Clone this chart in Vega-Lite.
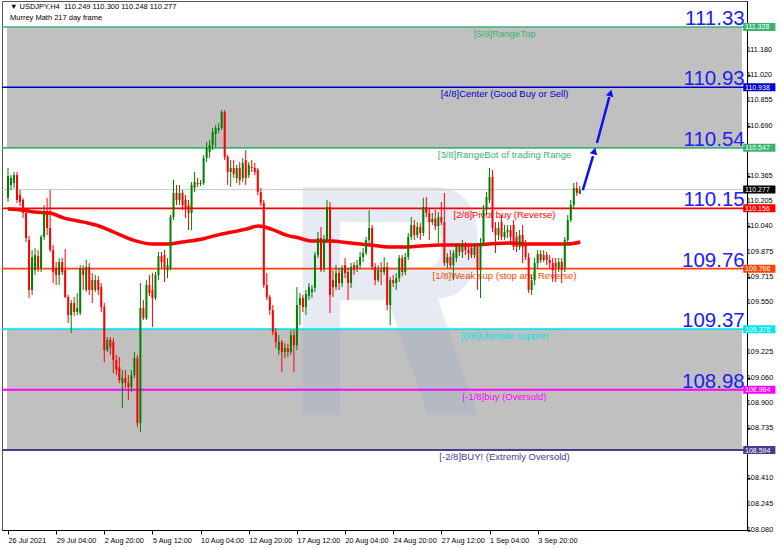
{
"$schema": "https://vega.github.io/schema/vega-lite/v6.json",
"width": 745, "height": 529,
"autosize": {"type": "none"},
"padding": {"left": 2, "top": 1, "right": 35, "bottom": 19},
"background": "white",
"config": {
  "view": {"stroke": "#555", "strokeWidth": 1},
  "axis": {"labelFont": "Liberation Sans", "labelFontSize": 7.3, "labelColor": "#000", "domainColor": "#000", "tickColor": "#000", "grid": false, "labelOverlap": false},
  "text": {"font": "Liberation Sans"}
},
"datasets": {
  "bands": [{"top": 111.328, "bot": 110.547}, {"top": 109.375, "bot": 108.594}],
  "levels": [
    {"k": "5/8", "v": 111.328, "name": "[5/8]RangeTop", "big": "111.33"},
    {"k": "4/8", "v": 110.938, "name": "[4/8]Center (Good Buy or Sell)", "big": "110.93"},
    {"k": "3/8", "v": 110.547, "name": "[3/8]RangeBot of trading Range", "big": "110.54"},
    {"k": "2/8", "v": 110.156, "name": "[2/8]Pivot buy (Reverse)", "big": "110.15"},
    {"k": "1/8", "v": 109.766, "name": "[1/8]Weak sup (stop and Reverse)", "big": "109.76"},
    {"k": "0/8", "v": 109.375, "name": "[0/8]Ultimate support", "big": "109.37"},
    {"k": "-1/8", "v": 108.984, "name": "[-1/8]buy (Oversold)", "big": "108.98"},
    {"k": "-2/8", "v": 108.594, "name": "[-2/8]BUY! (Extremly Oversold)", "big": ""}
  ],
  "tags": [
    {"k": "5/8", "v": 111.328}, {"k": "4/8", "v": 110.938}, {"k": "3/8", "v": 110.547},
    {"k": "cur", "v": 110.277}, {"k": "2/8", "v": 110.156}, {"k": "1/8", "v": 109.766},
    {"k": "0/8", "v": 109.375}, {"k": "-1/8", "v": 108.984}, {"k": "-2/8", "v": 108.594}
  ],
  "cur": [{"v": 110.277}],
  "logo": [{"i": 127.05, "p": 109.557}],
  "yticks": [{"v":108.08},{"v":108.245},{"v":108.41},{"v":108.735},{"v":108.9},{"v":109.06},{"v":109.225},{"v":109.55},{"v":109.715},{"v":109.875},{"v":110.04},{"v":110.205},{"v":110.365},{"v":110.69},{"v":110.855},{"v":111.02},{"v":111.18}],
  "ma": [
    {"i":0,"p":110.152},{"i":4.6,"p":110.145},{"i":8.9,"p":110.132},{"i":13.8,"p":110.126},{"i":18.7,"p":110.093},{"i":25.2,"p":110.067},{"i":30.2,"p":110.042},{"i":35.1,"p":110.003},{"i":41.6,"p":109.951},{"i":48.2,"p":109.925},{"i":53.1,"p":109.925},{"i":58,"p":109.938},{"i":64.6,"p":109.958},{"i":69.5,"p":109.983},{"i":74.4,"p":110.003},{"i":79.3,"p":110.022},{"i":83.3,"p":110.042},{"i":87.5,"p":110.022},{"i":92.5,"p":109.983},{"i":96.7,"p":109.964},{"i":100.7,"p":109.945},{"i":107.2,"p":109.945},{"i":113.8,"p":109.932},{"i":120.3,"p":109.919},{"i":126.9,"p":109.906},{"i":131.8,"p":109.906},{"i":136.7,"p":109.912},{"i":143.3,"p":109.919},{"i":153.1,"p":109.919},{"i":159.7,"p":109.925},{"i":166.2,"p":109.932},{"i":172.8,"p":109.925},{"i":179.3,"p":109.925},{"i":185.9,"p":109.925},{"i":190.2,"p":109.938}
  ],
  "arrow": [
    {"seg":1,"i":191.0,"p":110.274},{"seg":1,"i":194.4,"p":110.494},
    {"seg":2,"i":195.7,"p":110.578},{"seg":2,"i":199.8,"p":110.875}
  ],
  "heads": [{"seg":1,"i":194.85,"p":110.526},{"seg":2,"i":200.2,"p":110.901}],
  "candles": [
    {"i":0,"o":110.223,"h":110.417,"l":110.197,"c":110.365},
    {"i":1,"o":110.307,"h":110.371,"l":110.274,"c":110.352},
    {"i":2,"o":110.320,"h":110.391,"l":110.287,"c":110.371},
    {"i":3,"o":110.371,"h":110.391,"l":110.190,"c":110.210},
    {"i":4,"o":110.242,"h":110.274,"l":110.171,"c":110.197},
    {"i":5,"o":110.210,"h":110.223,"l":110.093,"c":110.126},
    {"i":6,"o":110.126,"h":110.158,"l":109.938,"c":109.964},
    {"i":7,"o":109.951,"h":109.977,"l":109.576,"c":109.628},
    {"i":8,"o":109.628,"h":109.886,"l":109.596,"c":109.841},
    {"i":9,"o":109.757,"h":109.899,"l":109.725,"c":109.854},
    {"i":10,"o":109.848,"h":109.886,"l":109.744,"c":109.770},
    {"i":11,"o":109.770,"h":109.983,"l":109.744,"c":109.971},
    {"i":12,"o":109.971,"h":110.177,"l":109.951,"c":110.126},
    {"i":13,"o":110.126,"h":110.223,"l":109.983,"c":110.029},
    {"i":14,"o":110.029,"h":110.274,"l":109.874,"c":109.886},
    {"i":15,"o":109.886,"h":109.919,"l":109.673,"c":109.744},
    {"i":16,"o":109.770,"h":109.809,"l":109.660,"c":109.725},
    {"i":17,"o":109.725,"h":109.835,"l":109.660,"c":109.809},
    {"i":18,"o":109.809,"h":109.835,"l":109.725,"c":109.744},
    {"i":19,"o":109.757,"h":109.893,"l":109.576,"c":109.583},
    {"i":20,"o":109.583,"h":109.596,"l":109.415,"c":109.466},
    {"i":21,"o":109.466,"h":109.563,"l":109.350,"c":109.544},
    {"i":22,"o":109.544,"h":109.583,"l":109.460,"c":109.486},
    {"i":23,"o":109.486,"h":109.608,"l":109.466,"c":109.512},
    {"i":24,"o":109.479,"h":109.789,"l":109.466,"c":109.770},
    {"i":25,"o":109.770,"h":109.789,"l":109.628,"c":109.725},
    {"i":26,"o":109.628,"h":109.822,"l":109.615,"c":109.777},
    {"i":27,"o":109.777,"h":109.802,"l":109.596,"c":109.628},
    {"i":28,"o":109.692,"h":109.738,"l":109.544,"c":109.628},
    {"i":29,"o":109.628,"h":109.725,"l":109.615,"c":109.692},
    {"i":30,"o":109.692,"h":109.718,"l":109.596,"c":109.628},
    {"i":31,"o":109.647,"h":109.673,"l":109.486,"c":109.518},
    {"i":32,"o":109.518,"h":109.544,"l":109.162,"c":109.240},
    {"i":33,"o":109.240,"h":109.324,"l":109.227,"c":109.305},
    {"i":34,"o":109.305,"h":109.324,"l":109.208,"c":109.259},
    {"i":35,"o":109.292,"h":109.318,"l":109.091,"c":109.175},
    {"i":36,"o":109.175,"h":109.208,"l":109.078,"c":109.111},
    {"i":37,"o":109.130,"h":109.195,"l":109.027,"c":109.046},
    {"i":38,"o":109.027,"h":109.111,"l":108.865,"c":109.059},
    {"i":39,"o":109.059,"h":109.111,"l":108.994,"c":109.027},
    {"i":40,"o":109.027,"h":109.078,"l":108.917,"c":109.001},
    {"i":41,"o":109.001,"h":109.111,"l":108.969,"c":109.078},
    {"i":42,"o":109.078,"h":109.227,"l":109.059,"c":109.188},
    {"i":43,"o":109.188,"h":109.208,"l":108.742,"c":108.768},
    {"i":44,"o":108.768,"h":109.673,"l":108.710,"c":109.512},
    {"i":45,"o":109.512,"h":109.563,"l":109.434,"c":109.447},
    {"i":46,"o":109.447,"h":109.692,"l":109.434,"c":109.660},
    {"i":47,"o":109.660,"h":109.725,"l":109.589,"c":109.608},
    {"i":48,"o":109.628,"h":109.738,"l":109.389,"c":109.576},
    {"i":49,"o":109.576,"h":109.744,"l":109.563,"c":109.725},
    {"i":50,"o":109.725,"h":109.874,"l":109.692,"c":109.848},
    {"i":51,"o":109.848,"h":109.874,"l":109.770,"c":109.809},
    {"i":52,"o":109.854,"h":109.886,"l":109.680,"c":109.770},
    {"i":53,"o":109.757,"h":109.835,"l":109.705,"c":109.789},
    {"i":54,"o":109.770,"h":110.113,"l":109.757,"c":110.100},
    {"i":55,"o":110.100,"h":110.339,"l":110.080,"c":110.255},
    {"i":56,"o":110.255,"h":110.307,"l":110.177,"c":110.210},
    {"i":57,"o":110.210,"h":110.307,"l":110.177,"c":110.255},
    {"i":58,"o":110.255,"h":110.274,"l":110.145,"c":110.177},
    {"i":59,"o":110.210,"h":110.242,"l":110.093,"c":110.158},
    {"i":60,"o":110.177,"h":110.210,"l":110.016,"c":110.126},
    {"i":61,"o":110.126,"h":110.326,"l":110.016,"c":110.307},
    {"i":62,"o":110.287,"h":110.391,"l":110.261,"c":110.326},
    {"i":63,"o":110.320,"h":110.352,"l":110.294,"c":110.313},
    {"i":64,"o":110.313,"h":110.339,"l":110.300,"c":110.320},
    {"i":65,"o":110.320,"h":110.501,"l":110.307,"c":110.481},
    {"i":66,"o":110.481,"h":110.585,"l":110.455,"c":110.546},
    {"i":67,"o":110.520,"h":110.598,"l":110.481,"c":110.565},
    {"i":68,"o":110.565,"h":110.675,"l":110.533,"c":110.649},
    {"i":69,"o":110.636,"h":110.694,"l":110.552,"c":110.675},
    {"i":70,"o":110.662,"h":110.707,"l":110.643,"c":110.675},
    {"i":71,"o":110.675,"h":110.791,"l":110.662,"c":110.779},
    {"i":72,"o":110.779,"h":110.791,"l":110.468,"c":110.488},
    {"i":73,"o":110.488,"h":110.501,"l":110.307,"c":110.391},
    {"i":74,"o":110.391,"h":110.468,"l":110.294,"c":110.417},
    {"i":75,"o":110.417,"h":110.468,"l":110.352,"c":110.378},
    {"i":76,"o":110.352,"h":110.436,"l":110.320,"c":110.417},
    {"i":77,"o":110.417,"h":110.455,"l":110.307,"c":110.339},
    {"i":78,"o":110.352,"h":110.481,"l":110.326,"c":110.449},
    {"i":79,"o":110.468,"h":110.533,"l":110.307,"c":110.352},
    {"i":80,"o":110.371,"h":110.455,"l":110.352,"c":110.436},
    {"i":81,"o":110.423,"h":110.468,"l":110.391,"c":110.417},
    {"i":82,"o":110.417,"h":110.449,"l":110.371,"c":110.391},
    {"i":83,"o":110.404,"h":110.417,"l":110.242,"c":110.261},
    {"i":84,"o":110.261,"h":110.287,"l":110.171,"c":110.190},
    {"i":85,"o":110.190,"h":110.210,"l":109.641,"c":109.660},
    {"i":86,"o":109.660,"h":109.738,"l":109.563,"c":109.583},
    {"i":87,"o":109.583,"h":109.596,"l":109.466,"c":109.499},
    {"i":88,"o":109.499,"h":109.531,"l":109.337,"c":109.356},
    {"i":89,"o":109.356,"h":109.382,"l":109.253,"c":109.292},
    {"i":90,"o":109.240,"h":109.337,"l":109.208,"c":109.292},
    {"i":91,"o":109.292,"h":109.305,"l":109.098,"c":109.227},
    {"i":92,"o":109.227,"h":109.285,"l":109.188,"c":109.253},
    {"i":93,"o":109.253,"h":109.279,"l":109.195,"c":109.227},
    {"i":94,"o":109.227,"h":109.369,"l":109.208,"c":109.337},
    {"i":95,"o":109.337,"h":109.369,"l":109.098,"c":109.272},
    {"i":96,"o":109.272,"h":109.647,"l":109.240,"c":109.531},
    {"i":97,"o":109.531,"h":109.608,"l":109.402,"c":109.576},
    {"i":98,"o":109.576,"h":109.596,"l":109.486,"c":109.518},
    {"i":99,"o":109.518,"h":109.628,"l":109.466,"c":109.602},
    {"i":100,"o":109.589,"h":109.673,"l":109.563,"c":109.647},
    {"i":101,"o":109.615,"h":109.660,"l":109.576,"c":109.634},
    {"i":102,"o":109.641,"h":109.874,"l":109.615,"c":109.854},
    {"i":103,"o":109.854,"h":110.003,"l":109.835,"c":109.964},
    {"i":104,"o":109.964,"h":110.035,"l":109.744,"c":109.757},
    {"i":105,"o":109.770,"h":109.983,"l":109.744,"c":109.951},
    {"i":106,"o":109.951,"h":110.210,"l":109.932,"c":110.164},
    {"i":107,"o":110.164,"h":110.197,"l":109.479,"c":109.596},
    {"i":108,"o":109.692,"h":109.757,"l":109.583,"c":109.647},
    {"i":109,"o":109.647,"h":109.789,"l":109.628,"c":109.738},
    {"i":110,"o":109.738,"h":109.770,"l":109.628,"c":109.673},
    {"i":111,"o":109.673,"h":109.789,"l":109.647,"c":109.770},
    {"i":112,"o":109.789,"h":109.835,"l":109.705,"c":109.738},
    {"i":113,"o":109.744,"h":109.770,"l":109.563,"c":109.673},
    {"i":114,"o":109.673,"h":109.802,"l":109.641,"c":109.777},
    {"i":115,"o":109.789,"h":109.809,"l":109.725,"c":109.757},
    {"i":116,"o":109.770,"h":109.822,"l":109.744,"c":109.789},
    {"i":117,"o":109.789,"h":109.874,"l":109.770,"c":109.841},
    {"i":118,"o":109.841,"h":109.899,"l":109.809,"c":109.867},
    {"i":119,"o":109.867,"h":109.971,"l":109.854,"c":109.951},
    {"i":120,"o":109.951,"h":110.145,"l":109.932,"c":110.029},
    {"i":121,"o":110.029,"h":110.048,"l":109.757,"c":109.777},
    {"i":122,"o":109.777,"h":109.802,"l":109.660,"c":109.692},
    {"i":123,"o":109.692,"h":109.789,"l":109.680,"c":109.757},
    {"i":124,"o":109.757,"h":109.809,"l":109.660,"c":109.744},
    {"i":125,"o":109.744,"h":109.841,"l":109.725,"c":109.777},
    {"i":126,"o":109.777,"h":109.809,"l":109.499,"c":109.531},
    {"i":127,"o":109.531,"h":109.712,"l":109.402,"c":109.692},
    {"i":128,"o":109.692,"h":109.725,"l":109.647,"c":109.673},
    {"i":129,"o":109.673,"h":109.738,"l":109.628,"c":109.705},
    {"i":130,"o":109.705,"h":109.854,"l":109.680,"c":109.835},
    {"i":131,"o":109.835,"h":109.854,"l":109.718,"c":109.744},
    {"i":132,"o":109.744,"h":109.867,"l":109.725,"c":109.841},
    {"i":133,"o":109.841,"h":109.996,"l":109.822,"c":109.971},
    {"i":134,"o":109.971,"h":110.100,"l":109.951,"c":110.048},
    {"i":135,"o":110.048,"h":110.080,"l":109.951,"c":109.983},
    {"i":136,"o":109.983,"h":110.067,"l":109.964,"c":110.035},
    {"i":137,"o":110.035,"h":110.061,"l":109.951,"c":109.996},
    {"i":138,"o":109.996,"h":110.223,"l":109.977,"c":110.164},
    {"i":139,"o":110.164,"h":110.229,"l":110.100,"c":110.126},
    {"i":140,"o":110.126,"h":110.158,"l":109.951,"c":110.067},
    {"i":141,"o":110.067,"h":110.126,"l":110.048,"c":110.087},
    {"i":142,"o":110.087,"h":110.145,"l":110.016,"c":110.042},
    {"i":143,"o":110.042,"h":110.132,"l":109.932,"c":110.100},
    {"i":144,"o":110.100,"h":110.197,"l":110.048,"c":110.067},
    {"i":145,"o":110.067,"h":110.255,"l":109.783,"c":109.802},
    {"i":146,"o":109.802,"h":109.867,"l":109.770,"c":109.841},
    {"i":147,"o":109.841,"h":109.886,"l":109.770,"c":109.789},
    {"i":148,"o":109.789,"h":109.886,"l":109.692,"c":109.867},
    {"i":149,"o":109.835,"h":109.932,"l":109.809,"c":109.906},
    {"i":150,"o":109.906,"h":109.932,"l":109.848,"c":109.874},
    {"i":151,"o":109.874,"h":109.951,"l":109.835,"c":109.919},
    {"i":152,"o":109.919,"h":109.938,"l":109.854,"c":109.886},
    {"i":153,"o":109.886,"h":109.919,"l":109.822,"c":109.867},
    {"i":154,"o":109.899,"h":109.919,"l":109.835,"c":109.854},
    {"i":155,"o":109.854,"h":109.932,"l":109.835,"c":109.906},
    {"i":156,"o":109.906,"h":109.932,"l":109.628,"c":109.757},
    {"i":157,"o":109.757,"h":109.964,"l":109.576,"c":109.932},
    {"i":158,"o":109.932,"h":110.177,"l":109.912,"c":110.145},
    {"i":159,"o":110.145,"h":110.261,"l":110.113,"c":110.229},
    {"i":160,"o":110.210,"h":110.417,"l":110.190,"c":110.358},
    {"i":161,"o":110.358,"h":110.404,"l":110.003,"c":110.029},
    {"i":162,"o":110.029,"h":110.067,"l":109.867,"c":109.983},
    {"i":163,"o":109.983,"h":110.067,"l":109.951,"c":110.029},
    {"i":164,"o":110.067,"h":110.113,"l":109.951,"c":109.971},
    {"i":165,"o":109.971,"h":110.048,"l":109.951,"c":110.003},
    {"i":166,"o":110.003,"h":110.048,"l":109.964,"c":110.016},
    {"i":167,"o":110.016,"h":110.048,"l":109.938,"c":109.971},
    {"i":168,"o":110.048,"h":110.080,"l":109.886,"c":109.906},
    {"i":169,"o":109.971,"h":110.003,"l":109.874,"c":109.906},
    {"i":170,"o":109.906,"h":110.016,"l":109.886,"c":109.983},
    {"i":171,"o":109.983,"h":110.048,"l":109.802,"c":109.906},
    {"i":172,"o":109.919,"h":109.951,"l":109.822,"c":109.841},
    {"i":173,"o":109.841,"h":109.867,"l":109.608,"c":109.628},
    {"i":174,"o":109.628,"h":109.725,"l":109.596,"c":109.692},
    {"i":175,"o":109.692,"h":109.835,"l":109.660,"c":109.802},
    {"i":176,"o":109.802,"h":109.886,"l":109.770,"c":109.861},
    {"i":177,"o":109.861,"h":109.886,"l":109.802,"c":109.822},
    {"i":178,"o":109.822,"h":109.886,"l":109.809,"c":109.854},
    {"i":179,"o":109.854,"h":109.874,"l":109.789,"c":109.822},
    {"i":180,"o":109.822,"h":109.854,"l":109.770,"c":109.802},
    {"i":181,"o":109.802,"h":109.835,"l":109.680,"c":109.757},
    {"i":182,"o":109.802,"h":109.835,"l":109.680,"c":109.777},
    {"i":183,"o":109.770,"h":109.835,"l":109.744,"c":109.809},
    {"i":184,"o":109.809,"h":109.835,"l":109.673,"c":109.757},
    {"i":185,"o":109.770,"h":109.971,"l":109.744,"c":109.951},
    {"i":186,"o":109.951,"h":110.113,"l":109.932,"c":110.080},
    {"i":187,"o":110.080,"h":110.210,"l":110.067,"c":110.177},
    {"i":188,"o":110.177,"h":110.320,"l":110.158,"c":110.287},
    {"i":189,"o":110.287,"h":110.326,"l":110.236,"c":110.255},
    {"i":190,"o":110.249,"h":110.300,"l":110.248,"c":110.277}
  ]
},
"layer": [
  {
    "data": {"name": "bands"},
    "mark": {"type": "rect", "color": "#c0c0c0"},
    "encoding": {
      "x": {"datum": -0.33, "type": "quantitative"},
      "x2": {"datum": 243.9},
      "y": {"field": "top", "type": "quantitative", "title": null},
      "y2": {"field": "bot"}
    }
  },
  {
    "data": {"name": "logo"},
    "mark": {"type": "point", "filled": true, "size": 51984, "color": "#8aa0c8", "opacity": 0.22, "strokeWidth": 0,
      "shape": "M-0.768,-1 H0.373 Q0.768,-1 0.768,-0.518 Q0.768,-0.053 0.417,-0.018 L0.768,1 H0.329 L-0.022,-0.009 H-0.443 V1 H-0.768 Z M-0.443,-0.693 V-0.298 H0.329 Q0.443,-0.298 0.443,-0.5 Q0.443,-0.693 0.329,-0.693 Z"},
    "encoding": {
      "x": {"field": "i", "type": "quantitative", "title": null},
      "y": {"field": "p", "type": "quantitative", "title": null}
    }
  },
  {
    "data": {"name": "levels"},
    "mark": {"type": "rule"},
    "encoding": {
      "y": {"field": "v", "type": "quantitative", "title": null},
      "color": {"field": "k", "type": "nominal", "legend": null,
        "scale": {"domain": ["5/8","4/8","3/8","2/8","1/8","0/8","-1/8","-2/8","cur"],
                  "range": ["#3cb371","#0000cd","#3cb371","#ff0000","#ff4500","#00e5ee","#ff00ff","#483d8b","#000000"]}},
      "strokeWidth": {"field": "k", "type": "ordinal", "legend": null,
        "scale": {"domain": ["5/8","4/8","3/8","2/8","1/8","0/8","-1/8","-2/8"],
                  "range": [1.5, 2, 1.5, 1.5, 1.5, 2.5, 1.5, 1.5]}}
    }
  },
  {
    "data": {"name": "cur"},
    "mark": {"type": "rule", "color": "#c8c8c8", "strokeWidth": 1},
    "encoding": {"y": {"field": "v", "type": "quantitative", "title": null}}
  },
  {
    "data": {"name": "levels"},
    "mark": {"type": "text", "align": "center", "baseline": "top", "dy": 2, "fontSize": 9.5},
    "encoding": {
      "x": {"datum": 165, "type": "quantitative"},
      "y": {"field": "v", "type": "quantitative", "title": null},
      "text": {"field": "name"},
      "color": {"field": "k", "type": "nominal", "legend": null}
    }
  },
  {
    "data": {"name": "levels"},
    "mark": {"type": "text", "align": "right", "baseline": "alphabetic", "dy": -2, "fontSize": 20.5, "color": "#2020f0"},
    "encoding": {
      "x": {"datum": 244.8, "type": "quantitative"},
      "y": {"field": "v", "type": "quantitative", "title": null},
      "text": {"field": "big"}
    }
  },
  {
    "data": {"name": "ma"},
    "mark": {"type": "line", "color": "#ff0000", "strokeWidth": 3.5, "interpolate": "monotone"},
    "encoding": {
      "x": {"field": "i", "type": "quantitative", "title": null},
      "y": {"field": "p", "type": "quantitative", "title": null}
    }
  },
  {
    "data": {"name": "candles"},
    "mark": {"type": "rule", "strokeWidth": 1},
    "encoding": {
      "x": {"field": "i", "type": "quantitative", "title": null,
        "scale": {"domain": [-0.33, 243.9], "nice": false, "zero": false},
        "axis": {"orient": "bottom", "title": null, "values": [0,16,32,48,64,80,96,112,128,144,160,176],
          "labelExpr": "['26 Jul 2021','29 Jul 04:00','2 Aug 20:00','5 Aug 12:00','10 Aug 04:00','12 Aug 20:00','17 Aug 12:00','20 Aug 04:00','24 Aug 20:00','27 Aug 12:00','1 Sep 04:00','3 Sep 20:00'][round(datum.value/16)]",
          "tickSize": 4, "labelAlign": "left", "labelPadding": 2, "labelBaseline": "top", "labelOverlap": false, "labelFlush": false}},
      "y": {"field": "l", "type": "quantitative", "title": null,
        "scale": {"domain": [108.077, 111.496], "nice": false, "zero": false},
        "axis": {"orient": "right", "title": null, "labels": false, "tickSize": 3,
          "values": [108.08,108.245,108.41,108.57,108.735,108.9,109.06,109.225,109.385,109.55,109.715,109.875,110.04,110.205,110.365,110.53,110.69,110.855,111.02,111.18]}},
      "y2": {"field": "h"},
      "color": {"condition": {"test": "datum.c >= datum.o", "value": "#008000"}, "value": "#ff0000"}
    }
  },
  {
    "data": {"name": "candles"},
    "mark": {"type": "bar", "size": 2},
    "encoding": {
      "x": {"field": "i", "type": "quantitative", "title": null},
      "y": {"field": "o", "type": "quantitative", "title": null},
      "y2": {"field": "c"},
      "color": {"condition": {"test": "datum.c >= datum.o", "value": "#008000"}, "value": "#ff0000"}
    }
  },
  {
    "data": {"name": "arrow"},
    "mark": {"type": "line", "color": "#1010ee", "strokeWidth": 2.5},
    "encoding": {
      "x": {"field": "i", "type": "quantitative", "title": null},
      "y": {"field": "p", "type": "quantitative", "title": null},
      "detail": {"field": "seg"}
    }
  },
  {
    "data": {"name": "heads"},
    "mark": {"type": "point", "shape": "triangle-up", "filled": true, "size": 60, "angle": 16, "color": "#1010ee", "opacity": 1},
    "encoding": {
      "x": {"field": "i", "type": "quantitative", "title": null},
      "y": {"field": "p", "type": "quantitative", "title": null}
    }
  },
  {
    "data": {"name": "yticks"},
    "mark": {"type": "text", "align": "left", "baseline": "middle", "fontSize": 7.3, "color": "#000"},
    "encoding": {
      "x": {"datum": 245.5, "type": "quantitative"},
      "y": {"field": "v", "type": "quantitative", "title": null},
      "text": {"field": "v", "format": ".3f"}
    }
  },
  {
    "data": {"name": "tags"},
    "mark": {"type": "rule", "strokeWidth": 8},
    "encoding": {
      "x": {"datum": 244.3, "type": "quantitative"},
      "x2": {"datum": 255},
      "y": {"field": "v", "type": "quantitative", "title": null},
      "color": {"field": "k", "type": "nominal", "legend": null}
    }
  },
  {
    "data": {"name": "tags"},
    "mark": {"type": "text", "align": "left", "baseline": "middle", "fontSize": 7, "color": "#ffffff", "dy": 0.5},
    "encoding": {
      "x": {"datum": 244.9, "type": "quantitative"},
      "y": {"field": "v", "type": "quantitative", "title": null},
      "text": {"field": "v", "format": ".3f"}
    }
  },
  {
    "data": {"values": [{}]},
    "mark": {"type": "text", "text": "▼ USDJPY,H4\u00a0\u00a0110.249 110.300 110.248 110.277", "align": "left", "baseline": "middle", "fontSize": 7.5, "color": "#000"},
    "encoding": {
      "x": {"datum": 0.66, "type": "quantitative"},
      "y": {"datum": 111.457, "type": "quantitative"}
    }
  },
  {
    "data": {"values": [{}]},
    "mark": {"type": "text", "text": "Murrey Math 217 day frame", "align": "left", "baseline": "middle", "fontSize": 7.5, "color": "#000"},
    "encoding": {
      "x": {"datum": 0.66, "type": "quantitative"},
      "y": {"datum": 111.386, "type": "quantitative"}
    }
  }
]
}
